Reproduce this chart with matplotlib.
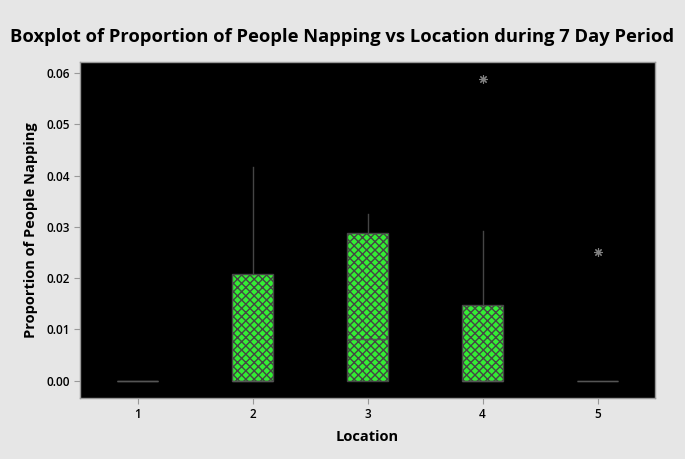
import matplotlib
matplotlib.use("Agg")
import matplotlib.pyplot as plt

plt.rcParams['font.family'] = ['Open Sans', 'DejaVu Sans']
plt.rcParams['hatch.linewidth'] = 1.0

# Summary statistics per location
locations = [1, 2, 3, 4, 5]
q1 = [0.0, 0.0, 0.0, 0.0, 0.0]
medians = [0.0, 0.0, 0.0082, 0.0, 0.0]
q3 = [0.0, 0.0208, 0.0288, 0.0148, 0.0]
whisker_lo = [0.0, 0.0, 0.0, 0.0, 0.0]
whisker_hi = [0.0, 0.0417, 0.0326, 0.0293, 0.0]
outliers = [[], [], [], [0.0589], [0.0252]]
y_ticks = [0.00, 0.01, 0.02, 0.03, 0.04, 0.05, 0.06]

stats = []
for i in range(len(locations)):
    stats.append(dict(label=str(locations[i]), q1=q1[i], med=medians[i], q3=q3[i],
                      whislo=whisker_lo[i], whishi=whisker_hi[i], fliers=outliers[i]))

bg = '#e6e6e6'
edge = '#454545'
fig = plt.figure(figsize=(6.85, 4.59), dpi=100, facecolor=bg)
ax = fig.add_axes([80 / 685, 1 - 398 / 459, 575 / 685, 336 / 459])
ax.set_facecolor('black')

bp = ax.bxp(stats, positions=locations, widths=0.35, patch_artist=True,
            showcaps=False,
            boxprops=dict(facecolor='#33ee33', edgecolor=edge, linewidth=1.0, hatch='xxxx'),
            whiskerprops=dict(color=edge, linewidth=1.0),
            medianprops=dict(color='#555555', linewidth=1.0),
            flierprops=dict(marker=(8, 2, 0), markersize=6, markerfacecolor='none',
                            markeredgecolor='#808080', markeredgewidth=0.8))

# Locations with no spread: box collapses to a flat gray line
for i, patch in enumerate(bp['boxes']):
    if q3[i] == q1[i]:
        patch.set_facecolor('none')
        patch.set_hatch(None)
        patch.set_edgecolor('#666666' if i == 0 else '#3a3a3a')

ax.set_xlim(0.5, 5.5)
ax.set_ylim(-0.0034, 0.0622)
ax.set_yticks(y_ticks)
ax.set_yticklabels([f'{v:.2f}' for v in y_ticks])
ax.set_xticks(locations)
ax.set_xticklabels([str(v) for v in locations])
ax.tick_params(axis='both', colors='#999999', labelcolor='black', length=4,
               labelsize=8.5)
for lbl in ax.get_xticklabels() + ax.get_yticklabels():
    lbl.set_fontweight('semibold')
for sp in ax.spines.values():
    sp.set_color('#999999')
    sp.set_linewidth(1.0)

ax.set_xlabel('Location', fontsize=10.5, fontweight='bold', labelpad=6)
ax.set_ylabel('Proportion of People Napping', fontsize=10.5, fontweight='bold', labelpad=6)
fig.text(0.5, 1 - 37 / 459, 'Boxplot of Proportion of People Napping vs Location during 7 Day Period',
         ha='center', va='center', fontsize=13.2, fontweight='bold')

fig.savefig('out.png', dpi=100, facecolor=bg)
